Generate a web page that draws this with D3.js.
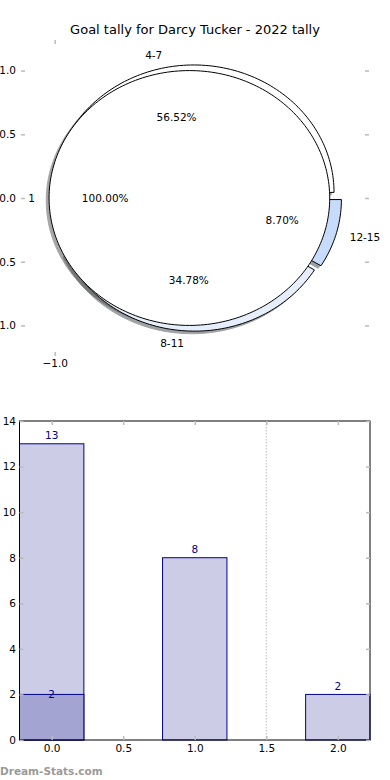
<!DOCTYPE html>
<html>
<head>
<meta charset="utf-8">
<script src="https://cdn.jsdelivr.net/npm/d3@7"></script>
<style>
  body { margin: 0; background: #fff; }
  svg { display: block; font-family: "DejaVu Sans", sans-serif; }
</style>
</head>
<body>
<svg width="390" height="780"></svg>
<script>
// chart values
const title = "Goal tally for Darcy Tucker - 2022 tally";
const innerLabels = ["1"];
const innerValues = [2];
const outerLabels = ["4-7", "8-11", "12-15"];
const outerValues = [13, 8, 2];
const pieTicksY = [1.0, 0.5, 0.0, -0.5, -1.0];
const pieTicksX = [-1.0];
const barPositions = [0, 1, 2];
const barValues = [13, 8, 2];
const overlayPositions = [0];
const overlayValues = [2];
const barTicksX = [0, 0.5, 1, 1.5, 2];
const barTicksY = [0, 2, 4, 6, 8, 10, 12, 14];
const watermark = "Dream-Stats.com";

const svg = d3.select("svg");
const tickColor = "#bbb";
const fontSize = 10.5;

// ---------- pie (top) ----------
const px = d3.scaleLinear().domain([-1.24, 1.24]).range([21, 369]);
const py = d3.scaleLinear().domain([-1.24, 1.24]).range([356, 40]);

const outerColor = d3.scaleOrdinal().domain(outerLabels).range(["#ffffff", "#e6eefc", "#c7dbfc"]);

// matplotlib style: start at 3 o'clock, go counter clockwise
const pie = d3.pie().sort(null).value(d => d.value)
  .startAngle(Math.PI / 2).endAngle(Math.PI / 2 - 2 * Math.PI);

function slices(labels, values, explode) {
  const total = d3.sum(values);
  return pie(labels.map((l, i) => ({ label: l, value: values[i] }))).map(s => {
    const t1 = 90 - s.startAngle * 180 / Math.PI;
    const t2 = 90 - s.endAngle * 180 / Math.PI;
    const mid = (t1 + t2) / 2 * Math.PI / 180;
    return {
      label: s.data.label, pct: s.data.value / total * 100,
      t1, t2, mid,
      cx: explode * Math.cos(mid), cy: explode * Math.sin(mid),
      full: Math.abs(t2 - t1) > 359.9
    };
  });
}

const line = d3.line().x(d => px(d[0])).y(d => py(d[1]));

function wedgePath(s) {
  const n = Math.max(4, Math.ceil((s.t2 - s.t1) / 1.5));
  const pts = d3.range(n + 1).map(i => {
    const t = (s.t1 + (s.t2 - s.t1) * i / n) * Math.PI / 180;
    return [s.cx + Math.cos(t), s.cy + Math.sin(t)];
  });
  if (!s.full) pts.unshift([s.cx, s.cy]);
  return line(pts) + "Z";
}

function shade(c) {
  const k = d3.rgb(c);
  return d3.rgb(k.r * 0.3, k.g * 0.3, k.b * 0.3).toString();
}

const outer = slices(outerLabels, outerValues, 0.045);
const inner = slices(innerLabels, innerValues, 0.04);
inner.forEach(d => d.color = "#ffffff");
outer.forEach(d => d.color = outerColor(d.label));
const allWedges = outer.concat(inner);

const sdx = px(-0.02) - px(0), sdy = py(-0.02) - py(0);

const pieG = svg.append("g");

// shadows sit under every wedge
pieG.selectAll("path.shadow")
  .data(allWedges)
  .enter().append("path")
  .attr("class", "shadow")
  .attr("d", wedgePath)
  .attr("transform", `translate(${sdx},${sdy})`)
  .attr("fill", d => shade(d.color))
  .attr("stroke", d => shade(d.color))
  .attr("opacity", 0.5);

pieG.selectAll("path.wedge")
  .data(allWedges)
  .enter().append("path")
  .attr("class", "wedge")
  .attr("d", wedgePath)
  .attr("fill", d => d.color)
  .attr("stroke", "#000")
  .attr("stroke-width", 1)
  .attr("stroke-linejoin", "miter");

// labels and percentages
allWedges.forEach(d => {
  const lx = d.cx + 1.1 * Math.cos(d.mid), ly = d.cy + 1.1 * Math.sin(d.mid);
  pieG.append("text")
    .attr("x", px(lx)).attr("y", py(ly))
    .attr("dy", "0.35em")
    .attr("text-anchor", lx > 0 ? "start" : "end")
    .attr("font-size", fontSize)
    .text(d.label);
  const qx = d.cx + 0.6 * Math.cos(d.mid), qy = d.cy + 0.6 * Math.sin(d.mid);
  pieG.append("text")
    .attr("x", px(qx)).attr("y", py(qy))
    .attr("dy", "0.35em")
    .attr("text-anchor", "middle")
    .attr("font-size", fontSize)
    .text(d.pct.toFixed(2) + "%");
});

function styleAxis(g) {
  g.select(".domain").remove();
  g.selectAll(".tick line").attr("stroke", tickColor).attr("stroke-width", 1.5);
  g.selectAll(".tick text").attr("fill", "#000").attr("font-size", fontSize)
    .attr("font-family", "DejaVu Sans, sans-serif");
}

svg.append("g").attr("transform", "translate(21,0)")
  .call(d3.axisLeft(py).tickValues(pieTicksY).tickSize(-4).tickPadding(5).tickFormat(d3.format(".1f")))
  .call(styleAxis);
svg.append("g").attr("transform", "translate(369,0)")
  .call(d3.axisRight(py).tickValues(pieTicksY).tickSize(-4).tickFormat(""))
  .call(styleAxis);
svg.append("g").attr("transform", "translate(0,40)")
  .call(d3.axisTop(px).tickValues(pieTicksX).tickSize(-4).tickFormat(""))
  .call(styleAxis);
svg.append("g").attr("transform", "translate(0,356)")
  .call(d3.axisBottom(px).tickValues(pieTicksX).tickSize(-4).tickPadding(4).tickFormat(d3.format(".1f")))
  .call(styleAxis);

svg.append("text")
  .attr("x", 195).attr("y", 34)
  .attr("text-anchor", "middle")
  .attr("font-size", 13)
  .text(title);

// ---------- bars (bottom) ----------
const bx = d3.scaleLinear().domain([-0.225, 2.225]).range([19.5, 370]);
const by = d3.scaleLinear().domain([0, 14]).range([740, 421]);
const barW = 0.45;

const barG = svg.append("g");

barG.append("line")
  .attr("x1", bx(1.5)).attr("x2", bx(1.5))
  .attr("y1", by(14)).attr("y2", by(0))
  .attr("stroke", "#bbb")
  .attr("stroke-dasharray", "1.5,1.5");

barG.selectAll("rect.main")
  .data(barValues)
  .enter().append("rect")
  .attr("class", "main")
  .attr("x", (d, i) => bx(barPositions[i] - barW / 2))
  .attr("width", bx(barW) - bx(0))
  .attr("y", d => by(d))
  .attr("height", d => by(0) - by(d))
  .attr("fill", "#ccccE6")
  .attr("stroke", "#00008b");

barG.selectAll("rect.over")
  .data(overlayValues)
  .enter().append("rect")
  .attr("class", "over")
  .attr("x", (d, i) => bx(overlayPositions[i] - barW / 2))
  .attr("width", bx(barW) - bx(0))
  .attr("y", d => by(d))
  .attr("height", d => by(0) - by(d))
  .attr("fill", "#a3a4d1")
  .attr("stroke", "#00008b");

barG.selectAll("text.main")
  .data(barValues)
  .enter().append("text")
  .attr("class", "main")
  .attr("x", (d, i) => bx(barPositions[i]))
  .attr("y", d => by(d) - 4.5)
  .attr("text-anchor", "middle")
  .attr("font-size", fontSize)
  .attr("fill", "#00008b")
  .text(d => d);

barG.selectAll("text.over")
  .data(overlayValues)
  .enter().append("text")
  .attr("class", "over")
  .attr("x", (d, i) => bx(overlayPositions[i]))
  .attr("y", d => by(d) + 4)
  .attr("text-anchor", "middle")
  .attr("font-size", fontSize)
  .attr("fill", "#00008b")
  .text(d => d);

svg.append("g").attr("transform", "translate(0,740)")
  .call(d3.axisBottom(bx).tickValues(barTicksX).tickSize(-4).tickPadding(4.5).tickFormat(d3.format(".1f")))
  .call(styleAxis);
svg.append("g").attr("transform", "translate(0,421)")
  .call(d3.axisTop(bx).tickValues(barTicksX).tickSize(-4).tickFormat(""))
  .call(styleAxis);
svg.append("g").attr("transform", "translate(19.5,0)")
  .call(d3.axisLeft(by).tickValues(barTicksY).tickSize(-4).tickPadding(3.5))
  .call(styleAxis);
svg.append("g").attr("transform", "translate(370,0)")
  .call(d3.axisRight(by).tickValues(barTicksY).tickSize(-4).tickFormat(""))
  .call(styleAxis);

barG.append("rect")
  .attr("x", bx(-0.225)).attr("y", by(14))
  .attr("width", bx(2.225) - bx(-0.225))
  .attr("height", by(0) - by(14))
  .attr("fill", "none")
  .attr("stroke", "#000");

svg.append("text")
  .attr("x", 0).attr("y", 775)
  .attr("font-size", 10.5)
  .attr("font-weight", "bold")
  .attr("fill", "#9a9a9a")
  .text(watermark);
</script>
</body>
</html>
